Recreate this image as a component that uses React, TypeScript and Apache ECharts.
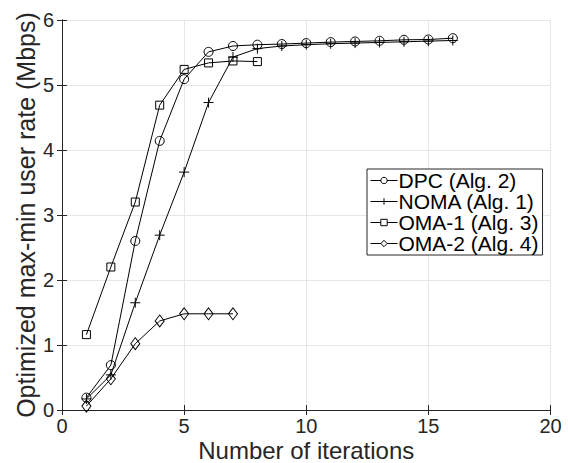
import React, { useEffect, useRef } from "react";
import * as echarts from "echarts";

const dpcIter = [1, 2, 3, 4, 5, 6, 7, 8, 9, 10, 11, 12, 13, 14, 15, 16];
const dpcRate = [0.19, 0.69, 2.6, 4.14, 5.09, 5.51, 5.6, 5.62, 5.63, 5.645, 5.66, 5.67, 5.68, 5.695, 5.70, 5.72];
const nomaIter = [1, 2, 3, 4, 5, 6, 7, 8, 9, 10, 11, 12, 13, 14, 15, 16];
const nomaRate = [0.17, 0.54, 1.65, 2.69, 3.66, 4.73, 5.43, 5.56, 5.6, 5.62, 5.635, 5.645, 5.655, 5.665, 5.675, 5.685];
const oma1Iter = [1, 2, 3, 4, 5, 6, 7, 8];
const oma1Rate = [1.16, 2.2, 3.2, 4.69, 5.24, 5.34, 5.37, 5.36];
const oma2Iter = [1, 2, 3, 4, 5, 6, 7];
const oma2Rate = [0.06, 0.48, 1.02, 1.37, 1.48, 1.48, 1.48];

const xTicks = { min: 0, max: 20, interval: 5 };
const yTicks = { min: 0, max: 6, interval: 1 };

const FONT = "Liberation Sans, Arial, Helvetica, sans-serif";
const INK = "#262626";

const pair = (xs: number[], ys: number[]) => xs.map((x, i) => [x, ys[i]]);

export default function App() {
  const ref = useRef<HTMLDivElement>(null);
  useEffect(() => {
    if (!ref.current) return;
    const chart = echarts.init(ref.current, undefined, { renderer: "svg" });
    const baseSeries = (name: string, data: number[][], symbol: string, size: any) => ({
      name,
      type: "line",
      data,
      symbol,
      symbolSize: size,
      showAllSymbol: true,
      lineStyle: { color: "#000", width: 1 },
      itemStyle: { color: "rgba(255,255,255,0)", borderColor: "#000", borderWidth: 1 },
      emphasis: { disabled: true },
    });
    const hiddenAxis = {
      axisLabel: { show: false },
      axisLine: { show: true, lineStyle: { color: INK, width: 1 } },
      axisTick: { show: true, inside: true, length: 5, lineStyle: { color: INK } },
      splitLine: { show: false },
    };
    chart.setOption({
      animation: false,
      backgroundColor: "#fff",
      grid: { left: 62, right: 17.5, top: 20, bottom: 53, outerBoundsMode: "none", containLabel: false },
      legend: {
        orient: "vertical",
        left: 367,
        top: 169,
        backgroundColor: "#fff",
        borderColor: INK,
        borderWidth: 1,
        borderRadius: 0,
        padding: [1, 4, 1, 3],
        itemGap: 0,
        itemWidth: 27,
        itemHeight: 8,
        itemStyle: { color: "#fff", borderColor: "#000", borderWidth: 1 },
        lineStyle: { color: "#000", width: 1 },
        textStyle: { fontFamily: FONT, fontSize: 21, color: "#000", padding: [0, 0, 0, -4] },
        data: ["DPC (Alg. 2)", "NOMA (Alg. 1)", "OMA-1 (Alg. 3)", "OMA-2 (Alg. 4)"],
      },
      xAxis: [
        {
          type: "value",
          ...xTicks,
          name: "Number of iterations",
          nameLocation: "middle",
          nameGap: 29,
          nameMoveOverlap: false,
          nameTextStyle: { fontFamily: FONT, fontSize: 24, lineHeight: 22, color: INK },
          axisLabel: { fontFamily: FONT, fontSize: 20, color: INK, margin: 6 },
          axisLine: { show: true, onZero: false, lineStyle: { color: INK, width: 1 } },
          axisTick: { show: true, inside: true, length: 5, lineStyle: { color: INK } },
          splitLine: { show: true, lineStyle: { color: "#e6e6e6", width: 1 } },
        },
        { type: "value", position: "top", ...xTicks, ...hiddenAxis },
      ],
      yAxis: [
        {
          type: "value",
          ...yTicks,
          name: "Optimized max-min user rate (Mbps)",
          nameLocation: "middle",
          nameGap: 24,
          nameMoveOverlap: false,
          nameTextStyle: { fontFamily: FONT, fontSize: 25, color: INK },
          axisLabel: { fontFamily: FONT, fontSize: 20, color: INK, margin: 8 },
          axisLine: { show: true, onZero: false, lineStyle: { color: INK, width: 1 } },
          axisTick: { show: true, inside: true, length: 5, lineStyle: { color: INK } },
          splitLine: { show: true, lineStyle: { color: "#e6e6e6", width: 1 } },
        },
        { type: "value", position: "right", ...yTicks, ...hiddenAxis },
      ],
      series: [
        baseSeries("DPC (Alg. 2)", pair(dpcIter, dpcRate), "circle", 9),
        baseSeries("NOMA (Alg. 1)", pair(nomaIter, nomaRate), "path://M0,5L10,5M5,0L5,10", 10),
        baseSeries("OMA-1 (Alg. 3)", pair(oma1Iter, oma1Rate), "rect", 8),
        baseSeries("OMA-2 (Alg. 4)", pair(oma2Iter, oma2Rate), "diamond", [9, 12]),
      ],
    });
    return () => chart.dispose();
  }, []);
  return <div ref={ref} style={{ width: 568, height: 463, position: "absolute", left: 0, top: 0 }} />;
}
